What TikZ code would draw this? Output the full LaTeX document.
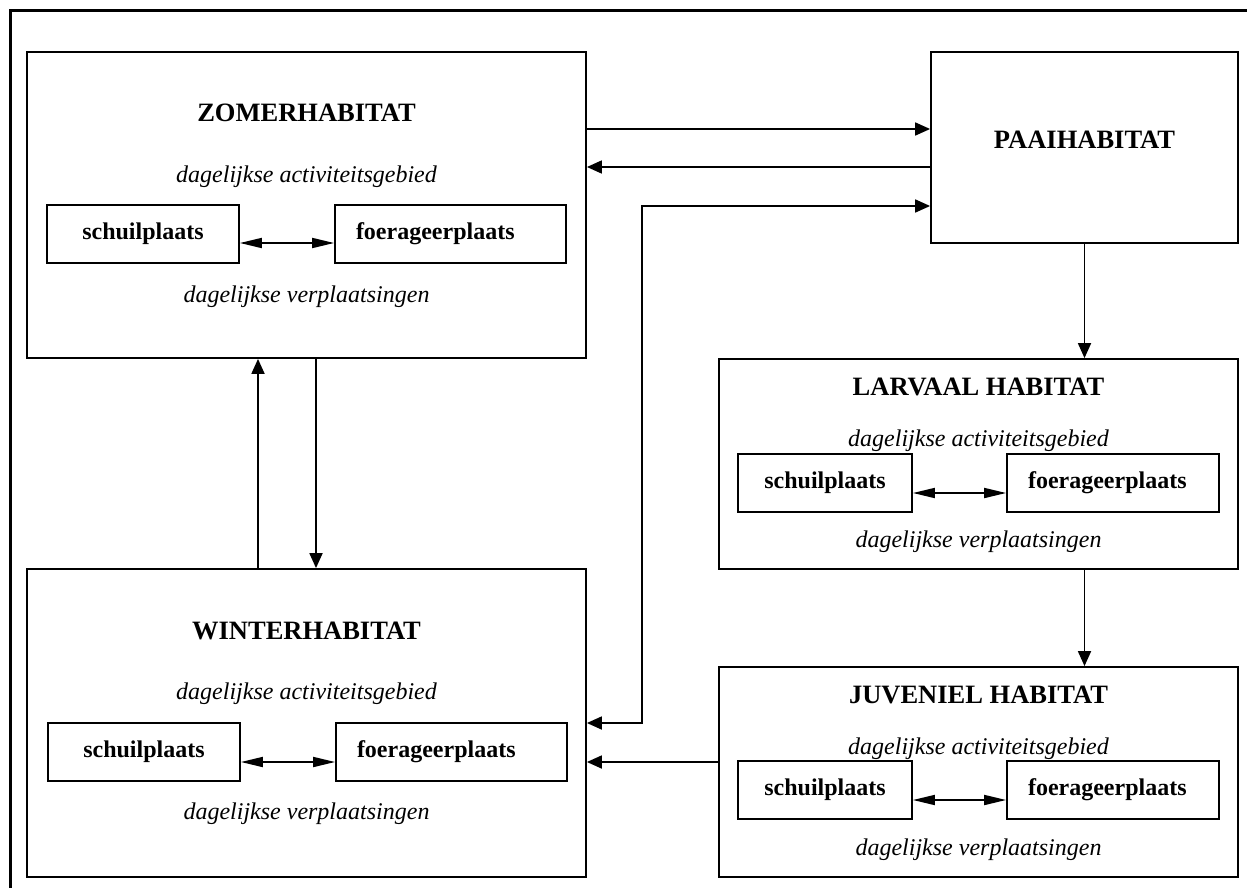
\documentclass[tikz,border=0pt]{standalone}
\usepackage{fontspec}
\setmainfont{Liberation Serif}
\usetikzlibrary{arrows.meta}
\begin{document}
\begin{tikzpicture}[x=1pt,y=-1pt,
  >={Triangle[length=15pt,width=13pt]},
  hab/.style={draw, line width=1.8pt, inner sep=0pt},
  plek/.style={draw, line width=1.8pt, minimum height=58pt, inner sep=0pt, font=\fontsize{24}{28}\selectfont\bfseries},
  titel/.style={anchor=base, inner sep=0pt, font=\fontsize{26.5}{30}\selectfont\bfseries},
  uitleg/.style={anchor=base, inner sep=0pt, font=\fontsize{24}{28}\selectfont\itshape},
  pijl/.style={line width=1.8pt, ->},
  heen/.style={line width=1.8pt, {Triangle[length=22pt,width=10pt]}-{Triangle[length=22pt,width=10pt]}}]
\useasboundingbox (0,0) rectangle (1247,888);
\draw[line width=3pt] (10,888) |- (1247,11);

% habitats
\node[hab, minimum width=559pt, minimum height=306pt] (zomer) at (306.5,205) {};
\node[hab, minimum width=559pt, minimum height=308pt] (winter) at (306.5,723) {};
\node[hab, minimum width=307pt, minimum height=191pt] (paai) at (1084.5,147.5) {};
\node[hab, minimum width=519pt, minimum height=210pt] (larvaal) at (978.5,464) {};
\node[hab, minimum width=519pt, minimum height=210pt] (juveniel) at (978.5,772) {};

\node[titel] (tzomer) at (306.5,122) {ZOMERHABITAT};
\node[titel] (twinter) at (306.5,639) {WINTERHABITAT};
\node[titel] (tpaai) at (1084.5,148) {PAAIHABITAT};
\node[titel] (tlarvaal) at (978.5,395) {LARVAAL HABITAT};
\node[titel] (tjuveniel) at (978.5,703) {JUVENIEL HABITAT};

\node[uitleg] (azomer) at (306.5,182) {dagelijkse activiteitsgebied};
\node[uitleg] (vzomer) at (306.5,302) {dagelijkse verplaatsingen};
\node[uitleg] (awinter) at (306.5,699) {dagelijkse activiteitsgebied};
\node[uitleg] (vwinter) at (306.5,819) {dagelijkse verplaatsingen};
\node[uitleg] (alarvaal) at (978.5,446) {dagelijkse activiteitsgebied};
\node[uitleg] (vlarvaal) at (978.5,547) {dagelijkse verplaatsingen};
\node[uitleg] (ajuveniel) at (978.5,754) {dagelijkse activiteitsgebied};
\node[uitleg] (vjuveniel) at (978.5,855) {dagelijkse verplaatsingen};

% schuil- en foerageerplaatsen
\node[plek, minimum width=192pt] (zs) at (143,234) {schuilplaats};
\node[plek, inner xsep=21pt, text width=189pt, align=left] (zf) at (450.5,234) {foerageerplaats};
\node[plek, minimum width=192pt] (ws) at (144,752) {schuilplaats};
\node[plek, inner xsep=21pt, text width=189pt, align=left] (wf) at (451.5,752) {foerageerplaats};
\node[plek, minimum width=174pt] (ls) at (825,483) {schuilplaats};
\node[plek, inner xsep=21pt, text width=170pt, align=left] (lf) at (1113,483) {foerageerplaats};
\node[plek, minimum width=174pt] (js) at (825,790) {schuilplaats};
\node[plek, inner xsep=21pt, text width=170pt, align=left] (jf) at (1113,790) {foerageerplaats};

\draw[heen] ([yshift=-9pt]zs.east) -- ([yshift=-9pt]zf.west);
\draw[heen] ([yshift=-10pt]ws.east) -- ([yshift=-10pt]wf.west);
\draw[heen] ([yshift=-10pt]ls.east) -- ([yshift=-10pt]lf.west);
\draw[heen] ([yshift=-10pt]js.east) -- ([yshift=-10pt]jf.west);

% migraties
\coordinate (knik) at (642,206);
\draw[pijl] (zomer.east |- 0,129) -- (paai.west |- 0,129);
\draw[pijl] (paai.west |- 0,167) -- (zomer.east |- 0,167);
\draw[pijl, <->] (winter.east) -| (knik) -- (paai.west |- knik);
\draw[pijl] (juveniel.west |- 0,762) -- (winter.east |- 0,762);
\draw[pijl] (winter.north -| 258,0) -- (zomer.south -| 258,0);
\draw[pijl] (zomer.south -| 316,0) -- (winter.north -| 316,0);
\draw[pijl] (paai.south) -- (paai.south |- larvaal.north);
\draw[pijl] (larvaal.south -| paai.south) -- (juveniel.north -| paai.south);
\end{tikzpicture}
\end{document}
